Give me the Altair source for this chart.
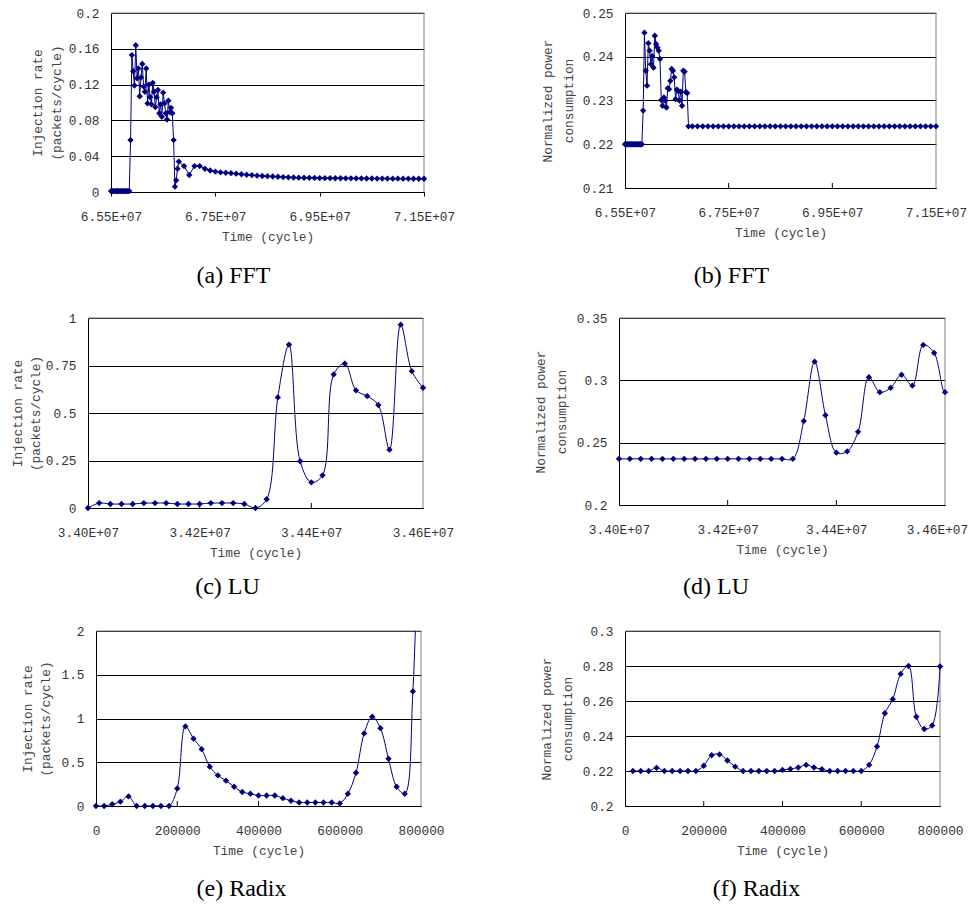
import altair as alt
import pandas as pd

NAVY = "#000080"

# ---------------- data ----------------
# (a) FFT injection rate (packets/cycle)
FFT_INJ_FLAT_START, FFT_INJ_FLAT_STEP = 65500000, 25000
FFT_INJ_FLAT = [0.001, 0.001, 0.001, 0.001, 0.001, 0.001, 0.001, 0.001,
                0.001, 0.001, 0.001, 0.001, 0.001, 0.001, 0.001]
FFT_INJ_ACT_START, FFT_INJ_ACT_STEP = 65875000, 25000
FFT_INJ_ACT = [0.058, 0.153, 0.135, 0.119, 0.164, 0.127, 0.138, 0.107, 0.128, 0.143,
               0.118, 0.112, 0.138, 0.099, 0.120, 0.106, 0.098, 0.122, 0.112, 0.095,
               0.106, 0.114, 0.088, 0.098, 0.084, 0.111, 0.099, 0.088, 0.081, 0.102,
               0.089, 0.094, 0.088, 0.058, 0.006, 0.013, 0.026, 0.034]
FFT_INJ_TAIL_START, FFT_INJ_TAIL_STEP = 66900000, 100000
FFT_INJ_TAIL = [0.029, 0.019, 0.029, 0.029, 0.026, 0.024, 0.0228, 0.022, 0.0215, 0.021,
                0.0205, 0.0198, 0.0193, 0.0188, 0.0183, 0.0179, 0.0176, 0.0173, 0.017, 0.0167,
                0.0164, 0.0162, 0.016, 0.0159, 0.0158, 0.0157, 0.0156, 0.0155, 0.0155, 0.0154,
                0.0154, 0.0153, 0.0153, 0.0152, 0.0152, 0.0151, 0.0151, 0.015, 0.015, 0.015,
                0.0149, 0.0149, 0.0149, 0.0149, 0.0148, 0.0148, 0.0148]

# (b) FFT normalized power consumption
FFT_PWR_FLAT_START, FFT_PWR_FLAT_STEP = 65500000, 25000
FFT_PWR_FLAT = [0.22, 0.22, 0.22, 0.22, 0.22, 0.22, 0.22,
                0.22, 0.22, 0.22, 0.22, 0.22, 0.22, 0.22]
FFT_PWR_ACT_START, FFT_PWR_ACT_STEP = 65850000, 25000
FFT_PWR_ACT = [0.2277, 0.2455, 0.2368, 0.2334, 0.2431, 0.2414, 0.2383, 0.2402, 0.2375, 0.2448,
               0.2429, 0.2421, 0.2414, 0.2395, 0.2301, 0.2288, 0.2307, 0.2300, 0.2284, 0.2328,
               0.2326, 0.2345, 0.2372, 0.2368, 0.2353, 0.2303, 0.2325, 0.2322, 0.2300, 0.2320,
               0.2288, 0.2368, 0.2366, 0.2319, 0.2317, 0.2241]
FFT_PWR_TAIL_START, FFT_PWR_TAIL_STEP = 66800000, 100000
FFT_PWR_TAIL = [0.2241, 0.2241, 0.2241, 0.2241, 0.2241, 0.2241, 0.2241, 0.2241,
                0.2241, 0.2241, 0.2241, 0.2241, 0.2241, 0.2241, 0.2241, 0.2241,
                0.2241, 0.2241, 0.2241, 0.2241, 0.2241, 0.2241, 0.2241, 0.2241,
                0.2241, 0.2241, 0.2241, 0.2241, 0.2241, 0.2241, 0.2241, 0.2241,
                0.2241, 0.2241, 0.2241, 0.2241, 0.2241, 0.2241, 0.2241, 0.2241,
                0.2241, 0.2241, 0.2241, 0.2241, 0.2241, 0.2241, 0.2241, 0.2241]

# (c) LU injection rate, (d) LU power
LU_START, LU_STEP = 34000000, 20000
LU_INJ = [0.00, 0.026, 0.021, 0.021, 0.021, 0.026, 0.026, 0.026, 0.021, 0.021,
          0.021, 0.026, 0.026, 0.026, 0.021, 0.00, 0.046, 0.582, 0.860, 0.246,
          0.135, 0.172, 0.703, 0.760, 0.619, 0.589, 0.542, 0.307, 0.965, 0.720, 0.633]
LU_PWR = [0.237, 0.237, 0.237, 0.237, 0.237, 0.237, 0.237, 0.237, 0.237, 0.237,
          0.237, 0.237, 0.237, 0.237, 0.237, 0.237, 0.237, 0.2673, 0.315, 0.272,
          0.242, 0.243, 0.2587, 0.3025, 0.2905, 0.294, 0.3045, 0.2958, 0.3284, 0.322, 0.2905]
LU_PWR_NEXT = (34620000, 0.31)   # next sample, beyond the right edge

# (e) Radix injection rate, (f) Radix power
RADIX_INJ_START, RADIX_STEP = 0, 20000
RADIX_INJ = [0.00, 0.00, 0.02, 0.05, 0.11, 0.00, 0.00, 0.00, 0.00, 0.00,
             0.20, 0.91, 0.77, 0.65, 0.45, 0.35, 0.29, 0.22, 0.16, 0.14,
             0.12, 0.12, 0.12, 0.09, 0.06, 0.04, 0.04, 0.04, 0.04, 0.04,
             0.03, 0.14, 0.38, 0.83, 1.02, 0.89, 0.54, 0.22, 0.14, 1.31]
RADIX_INJ_NEXT = (800000, 4.5)   # next sample, off the top of the plot
RADIX_PWR_START = 20000
RADIX_PWR = [0.220, 0.220, 0.220, 0.2218, 0.220, 0.220, 0.220, 0.220, 0.220, 0.223,
             0.229, 0.2295, 0.226, 0.2225, 0.220, 0.220, 0.220, 0.220, 0.220, 0.2206,
             0.2212, 0.222, 0.2235, 0.222, 0.221, 0.220, 0.220, 0.220, 0.220, 0.220,
             0.2235, 0.234, 0.253, 0.261, 0.2755, 0.280, 0.251, 0.244, 0.246, 0.2797]

# axis ticks
FFT_XTICKS = [65500000, 67500000, 69500000, 71500000]
LU_XTICKS = [34000000, 34200000, 34400000, 34600000]
RADIX_XTICKS = [0, 200000, 400000, 600000, 800000]
A_YTICKS = [0, 0.04, 0.08, 0.12, 0.16, 0.2]
B_YTICKS = [0.21, 0.22, 0.23, 0.24, 0.25]
C_YTICKS = [0, 0.25, 0.5, 0.75, 1]
D_YTICKS = [0.2, 0.25, 0.3, 0.35]
E_YTICKS = [0, 0.5, 1, 1.5, 2]
F_YTICKS = [0.2, 0.22, 0.24, 0.26, 0.28, 0.3]

INJ_TITLE = ["Injection rate", "(packets/cycle)"]
PWR_TITLE = ["Normalized power", "consumption"]

SCI = "replace(upper(format(datum.value, '.2e')), 'E+7', 'E+07')"
INT = "format(datum.value, 'd')"


def seg_df(*segments):
    rows = []
    for start, step, vals in segments:
        for i, v in enumerate(vals):
            rows.append({"t": start + i * step, "v": v})
    return pd.DataFrame(rows)


ONE = pd.DataFrame({"k": [0]})


def panel(line_df, pts_df, xdom, xticks, xexpr, ydom, yticks, ytitle, w, h, box,
          interp, clip, caption, cap_dx, cap_off, ytitle_pad, ytitle_lh,
          inner_ticks, outward=False, last_label_shift=0):
    L, T, R, B = box   # room around the plot area that this panel's cell spans
    xaxis_kw = dict(values=xticks, labelExpr=xexpr, title="Time (cycle)", grid=False,
                    ticks=outward, tickSize=4, tickColor="black",
                    labelPadding=14 if outward else 18, titlePadding=8,
                    labelFlush=False, labelOverlap=False, labelBound=False)
    if last_label_shift:
        xaxis_kw["labelOffset"] = {"condition": {"test": f"datum.value == {xticks[-1]}",
                                                 "value": last_label_shift}, "value": 0}
    xaxis = alt.Axis(**xaxis_kw)
    yaxis = alt.Axis(values=yticks, format=".2~f", title=ytitle, grid=True,
                     gridColor="black", gridWidth=1, ticks=False, labelPadding=12,
                     titlePadding=ytitle_pad, titleLineHeight=ytitle_lh,
                     labelOverlap=False)
    xs = alt.Scale(domain=xdom, nice=False, zero=False)
    ys = alt.Scale(domain=ydom, nice=False, zero=False)
    x = alt.X("t:Q", scale=xs, axis=xaxis)
    y = alt.Y("v:Q", scale=ys, axis=yaxis)
    cell = alt.Chart(ONE).mark_rect(opacity=0).encode(
        x=alt.value(-L), x2=alt.value(w + R), y=alt.value(-T), y2=alt.value(h + B))
    top = alt.Chart(ONE).mark_rule(color="#808080").encode(
        x=alt.value(0), x2=alt.value(w), y=alt.value(0))
    right = alt.Chart(ONE).mark_rule(color="#808080").encode(
        x=alt.value(w), y=alt.value(0), y2=alt.value(h))
    line = alt.Chart(line_df).mark_line(color=NAVY, strokeWidth=1,
                                        interpolate=interp, clip=clip).encode(x=x, y=y)
    pts = alt.Chart(pts_df).mark_point(shape="diamond", filled=True, color=NAVY,
                                       opacity=1, size=40).encode(x=x, y=y)
    layers = [cell, top, right]
    if inner_ticks:
        tdf = pd.DataFrame({"t": inner_ticks})
        layers.append(alt.Chart(tdf).mark_rule(color="black").encode(
            x=alt.X("t:Q", scale=xs, axis=xaxis), y=alt.value(h), y2=alt.value(h - 5)))
    layers += [line, pts]
    return alt.layer(*layers).properties(
        width=w, height=h,
        title=alt.TitleParams(caption, orient="bottom", anchor="middle", frame="group",
                              dx=cap_dx, offset=cap_off, font="Liberation Serif",
                              fontSize=24, fontWeight="normal", color="black"))


def lead(w):
    """Invisible leading cell that sets where a row's left panel starts."""
    return alt.Chart(ONE).mark_rect(opacity=0).encode(
        x=alt.value(0), x2=alt.value(w), y=alt.value(0), y2=alt.value(1)
    ).properties(width=w, height=1)


# data frames
a_df = seg_df((FFT_INJ_FLAT_START, FFT_INJ_FLAT_STEP, FFT_INJ_FLAT),
              (FFT_INJ_ACT_START, FFT_INJ_ACT_STEP, FFT_INJ_ACT),
              (FFT_INJ_TAIL_START, FFT_INJ_TAIL_STEP, FFT_INJ_TAIL))
b_df = seg_df((FFT_PWR_FLAT_START, FFT_PWR_FLAT_STEP, FFT_PWR_FLAT),
              (FFT_PWR_ACT_START, FFT_PWR_ACT_STEP, FFT_PWR_ACT),
              (FFT_PWR_TAIL_START, FFT_PWR_TAIL_STEP, FFT_PWR_TAIL))
c_df = seg_df((LU_START, LU_STEP, LU_INJ))
d_pts = seg_df((LU_START, LU_STEP, LU_PWR))
d_line = pd.concat([d_pts, pd.DataFrame({"t": [LU_PWR_NEXT[0]], "v": [LU_PWR_NEXT[1]]})],
                   ignore_index=True)
e_pts = seg_df((RADIX_INJ_START, RADIX_STEP, RADIX_INJ))
e_line = pd.concat([e_pts, pd.DataFrame({"t": [RADIX_INJ_NEXT[0]], "v": [RADIX_INJ_NEXT[1]]})],
                   ignore_index=True)
f_df = seg_df((RADIX_PWR_START, RADIX_STEP, RADIX_PWR))

# cell boxes: (left, top, right, bottom) room around each plot area
LL, LR = 84, 100   # left room of left-column and right-column panels
pa = panel(a_df, a_df, [65500000, 71500000], FFT_XTICKS, SCI, [0, 0.2], A_YTICKS, INJ_TITLE,
           313, 179, (LL, 9, 101, 108), "linear", False, "(a) FFT", -34, -36, 5, 19, None,
           outward=True)
pb = panel(b_df, b_df, [65500000, 71500000], FFT_XTICKS, SCI, [0.21, 0.25], B_YTICKS, PWR_TITLE,
           311, 175, (LR, 9, 33, 112), "linear", False, "(b) FFT", -49, -36, 7, 20.5,
           [67500000, 69500000])
pc = panel(c_df, c_df, [34000000, 34600000], LU_XTICKS, SCI, [0, 1], C_YTICKS, INJ_TITLE,
           335, 190, (LL, 18, 96, 102), "catmull-rom", False, "(c) LU", -28, -35, 3, 18,
           [34200000, 34400000])
pd_ = panel(d_line, d_pts, [34000000, 34600000], LU_XTICKS, SCI, [0.2, 0.35], D_YTICKS, PWR_TITLE,
            326, 187, (LR, 18, 24, 105), "catmull-rom", True, "(d) LU", -66, -35, 8, 20.5,
            [34200000, 34400000], last_label_shift=-8)
pe = panel(e_line, e_pts, [0, 800000], RADIX_XTICKS, INT, [0, 2], E_YTICKS, INJ_TITLE,
           325, 175, (LL, 21, 104, 95), "catmull-rom", True, "(e) Radix", -17, -24, 8, 18.5,
           [200000, 400000, 600000])
pf = panel(f_df, f_df, [0, 800000], RADIX_XTICKS, INT, [0.2, 0.3], F_YTICKS, PWR_TITLE,
           315, 175, (LR, 21, 29, 95), "catmull-rom", False, "(f) Radix", -26, -24, 8, 20.5,
           [200000, 400000, 600000])

row1 = alt.hconcat(lead(24), pa, pb, spacing=0)
row2 = alt.hconcat(lead(1), pc, pd_, spacing=0)
row3 = alt.hconcat(lead(9), pe, pf, spacing=0)

chart = alt.vconcat(row1, row2, row3, spacing=0).properties(
    padding={"left": -5, "top": -4, "right": 0, "bottom": 0}
).configure_view(stroke=None).configure_axis(
    labelFont="Liberation Mono", labelFontSize=12.8, labelColor="#333333",
    titleFont="Liberation Mono", titleFontSize=12.8, titleFontWeight="normal",
    titleColor="#444444", domainColor="black", domainWidth=1
)

chart.save("out.html", embed_options={"renderer": "svg", "actions": False})
